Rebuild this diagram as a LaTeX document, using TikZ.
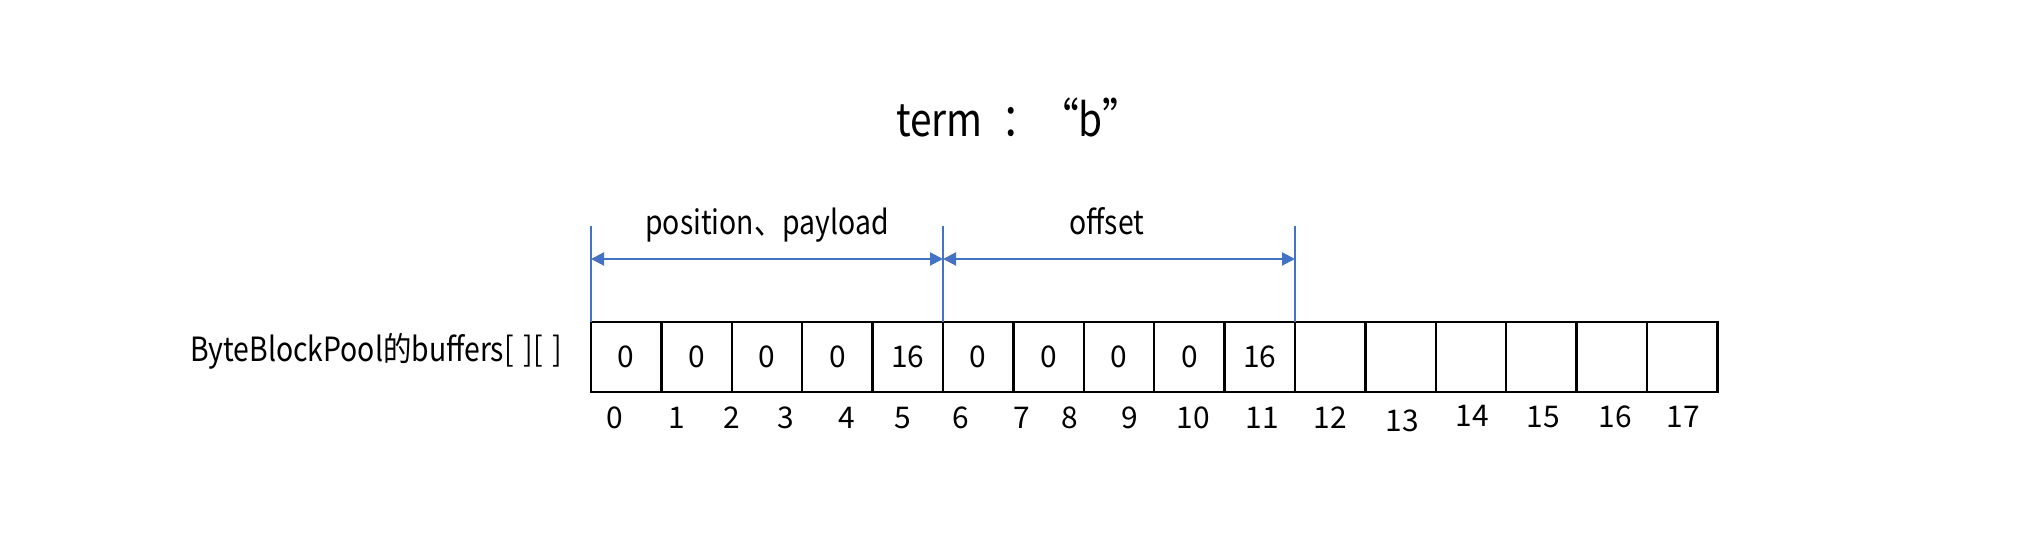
\documentclass[tikz,border=0pt]{standalone}
\usepackage{fontspec}
\setmainfont{Noto Sans CJK SC}
\newfontfamily\narrowfont[FakeStretch=0.85]{Noto Sans CJK SC}
\usetikzlibrary{arrows.meta}
\definecolor{lineblue}{HTML}{4472C4}
\tikzset{
  cell/.style={draw,line width=0.7pt,minimum width=0.704cm,minimum height=0.70cm,
    inner sep=0pt,outer sep=0pt,font=\fontsize{8.5}{10}\selectfont},
  idx/.style={font=\fontsize{8.5}{10}\selectfont},
  lbl/.style={font=\narrowfont\fontsize{9.5}{11}\selectfont},
  guide/.style={lineblue,line width=0.6pt},
  span/.style={guide,{Triangle[length=1.3mm,width=1.3mm]}-{Triangle[length=1.3mm,width=1.3mm]}},
}
\begin{document}
\begin{tikzpicture}
  \useasboundingbox (0,0) rectangle (20.28,5.40);
  \node[font=\narrowfont\fontsize{13}{15}\selectfont,anchor=base] (title) at (10.19,4.03)
    {term\hspace{0.4em}：“b”};
  % the buffer
  \foreach \v [count=\i from 0] in {0,0,0,0,16,0,0,0,0,16,{},{},{},{},{},{}}
    \node[cell] (c\i) at ({6.262+0.704*\i},1.83) {\v};
  \node[lbl,anchor=base east] (buf) at (5.75,1.78) {ByteBlockPool的buffers[\hspace{0.3em}][\hspace{0.3em}]};
  % indices
  \foreach \x/\y [count=\i from 0] in {6.15/1.22,6.77/1.22,7.32/1.22,7.86/1.22,8.47/1.22,
      9.03/1.22,9.61/1.22,10.22/1.22,10.70/1.22,11.30/1.22,11.93/1.22,12.62/1.22,
      13.30/1.22,14.02/1.19,14.72/1.24,15.43/1.23,16.15/1.23,16.83/1.23}
    \node[idx] (n\i) at (\x,\y) {\i};
  % ranges
  \foreach \k/\j in {0/0,1/5,2/10} {
    \draw[guide] (c\j.north west) -- ++(0,0.96) coordinate (g\k);
    \path (c\j.north west) ++(0,0.63) coordinate (m\k);
  }
  \draw[span] (m0) -- (m1);
  \draw[span] (m1) -- (m2);
  \node[lbl,anchor=base] (pp) at (7.67,3.05) {position、payload};
  \node[lbl,anchor=base] (off) at (11.07,3.05) {offset};
\end{tikzpicture}
\end{document}
